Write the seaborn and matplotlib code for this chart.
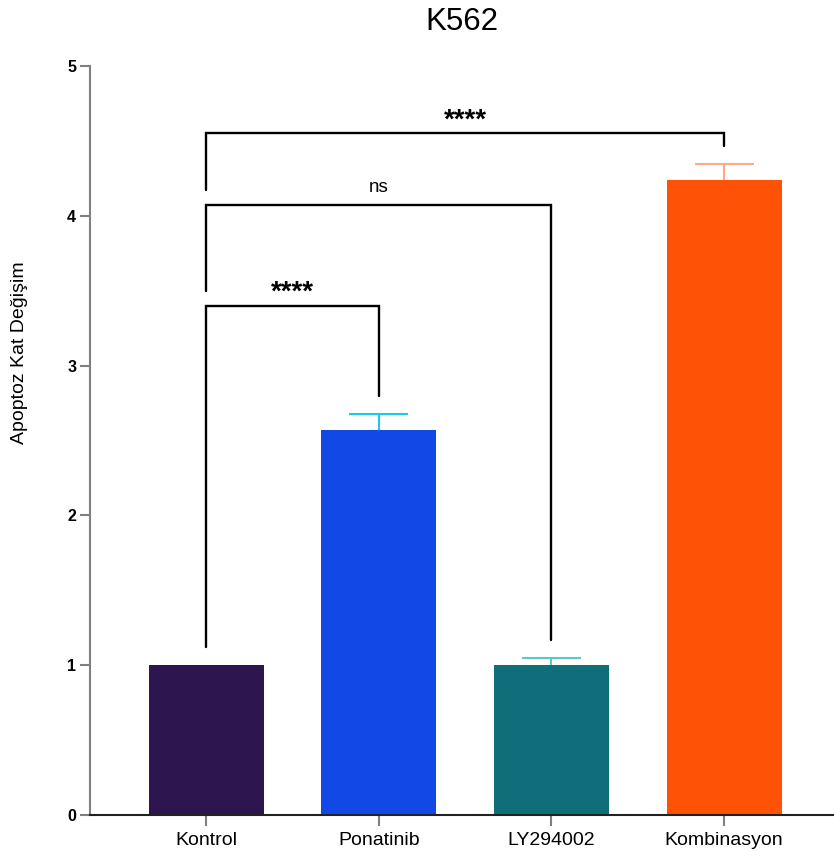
import matplotlib
matplotlib.use("Agg")
import matplotlib.pyplot as plt
import seaborn as sns
import pandas as pd

# Data
groups = ["Kontrol", "Ponatinib", "LY294002", "Kombinasyon"]
fold_change = [1.0, 2.57, 1.0, 4.24]
sd_upper = [0.0, 0.11, 0.05, 0.105]
bar_colors = ["#2D1650", "#1249E6", "#106E7A", "#FE5206"]
err_colors = ["#2D1650", "#1CC8F0", "#5BC8D0", "#FFA98A"]

# Significance comparisons: (group a, group b, bracket height, label)
comparisons = [
    ("Kontrol", "Ponatinib", 3.40, "****"),
    ("Kontrol", "LY294002", 4.07, "ns"),
    ("Kontrol", "Kombinasyon", 4.55, "****"),
]

sns.set_theme(style="white")
plt.rcParams["font.family"] = ["Liberation Sans", "DejaVu Sans"]
plt.rcParams["text.color"] = "black"
plt.rcParams["axes.labelcolor"] = "black"
plt.rcParams["xtick.labelcolor"] = "black"
plt.rcParams["ytick.labelcolor"] = "black"

df = pd.DataFrame({"group": groups, "value": fold_change})

fig = plt.figure(figsize=(8.34, 8.58), dpi=100)
ax = fig.add_axes([0.108, 0.0501, 0.892, 0.873])

sns.barplot(data=df, x="group", y="value", hue="group", palette=bar_colors,
            order=groups, hue_order=groups, width=0.667, errorbar=None,
            legend=False, ax=ax, saturation=1.0, edgecolor="none")

# Upper-only SD bars with a single cap
cap_half = 0.17
for i, (v, e, c) in enumerate(zip(fold_change, sd_upper, err_colors)):
    if e > 0:
        ax.vlines(i, v, v + e, color=c, lw=1.5, zorder=3)
        ax.hlines(v + e, i - cap_half, i + cap_half, color=c, lw=1.5, zorder=3)

# Brackets: each leg stops a little above whatever lies beneath it
gap = 0.12
occupied = [v + e for v, e in zip(fold_change, sd_upper)]
for a, b, h, label in comparisons:
    ia, ib = groups.index(a), groups.index(b)
    ya = occupied[ia] + gap
    yb = occupied[ib] + gap
    ax.plot([ia, ia, ib, ib], [ya, h, h, yb], color="black", lw=1.7,
            solid_joinstyle="miter", clip_on=False, zorder=4)
    for k in range(ia, ib + 1):
        occupied[k] = max(occupied[k], h - 0.02)
    if label == "ns":
        ax.text((ia + ib) / 2, h + 0.06, label, ha="center", va="bottom",
                fontsize=13.5, color="black")
    else:
        ax.text((ia + ib) / 2, h + 0.0, label, ha="center", va="bottom",
                fontsize=20, fontweight="bold", color="black")

ax.set_ylim(0, 5)
ax.set_xlim(-0.672, 3.636)
ax.set_yticks([0, 1, 2, 3, 4, 5])
ax.set_yticklabels(["0", "1", "2", "3", "4", "5"], fontsize=11.5, fontweight="bold")
ax.set_xticks(range(len(groups)))
ax.set_xticklabels(groups, fontsize=14)
ax.set_xlabel("")
ax.set_ylabel("Apoptoz Kat Değişim", fontsize=14)
ax.yaxis.set_label_coords(-0.084, 0.617)
ax.set_title("K562", fontsize=22.5, pad=26, color="black")

for s in ["top", "right"]:
    ax.spines[s].set_visible(False)
ax.spines["left"].set_color("#808080")
ax.spines["left"].set_linewidth(1.5)
ax.spines["bottom"].set_color("#222222")
ax.spines["bottom"].set_linewidth(1.5)
ax.tick_params(axis="y", which="major", length=7, width=1.5, color="#808080",
               left=True, direction="out", pad=3)
ax.tick_params(axis="x", which="major", length=8, width=1.5, color="#808080",
               bottom=True, direction="out", pad=4)

fig.savefig("out.png", dpi=100)
